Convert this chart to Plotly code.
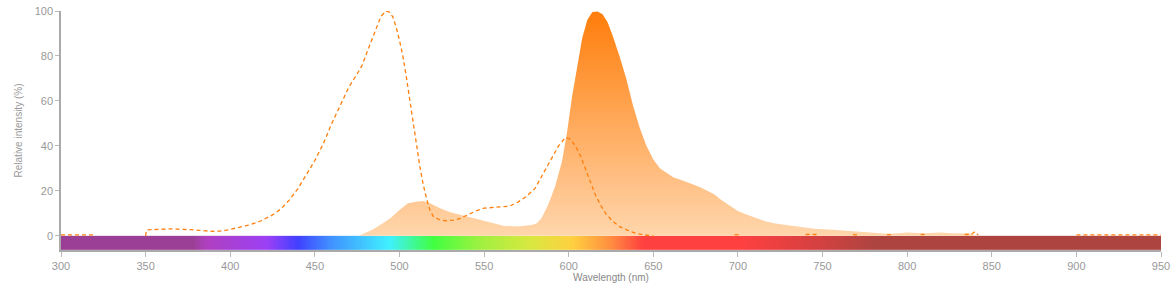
import numpy as np
import plotly.graph_objects as go

# ---------------- data ----------------
# Emission spectrum (filled area)
em_x = [476, 478, 484, 490, 495, 500, 505, 510, 514, 518, 524, 530, 540, 550, 556, 562,
        570, 578, 581, 584, 588, 592, 596, 599, 602, 605, 608, 611, 614, 617, 620, 623,
        626, 630, 634, 638, 642, 646, 650, 654, 658, 662, 666, 670, 674, 678, 682, 686,
        690, 695, 700, 705, 710, 716, 722, 730, 737, 745, 756, 766, 776, 788, 795, 800,
        810, 820, 826, 833, 838, 840]
em_y = [0, 0.7, 2.7, 5.5, 8, 11.5, 14.5, 15.2, 15.5, 14.5, 12.3, 10.5, 8.6, 6.4, 5.5, 4.4,
        4.2, 4.8, 5.5, 7.9, 14, 22, 33, 46, 62, 76, 88, 96, 99.5, 99.8, 98.5, 95,
        89, 80, 70, 58, 48, 40, 34, 30, 28, 26, 25, 24, 22.7, 21.5, 20, 18.5,
        16, 13.5, 11, 9.5, 8, 6.5, 5.5, 4.6, 3.8, 3.2, 2.7, 2.1, 1.6, 0.9, 1.2, 1.5,
        1.2, 1.5, 1.2, 1.2, 1.0, 0]

# Excitation spectrum (dashed line); None marks gaps where no line is visible
ex_x = [300, 320, None,
        350, 350.5, 355, 365, 375, 383, 391, 398, 405, 412, 418, 425, 430, 435, 440, 445,
        450, 455, 460, 465, 470, 475, 478, 482, 486, 489, 492, 494, 496, 498, 500, 502,
        504, 506, 508, 510, 512, 514, 516, 518, 520, 524, 528, 532, 536, 540, 545, 550,
        555, 560, 565, 570, 575, 580, 585, 590, 594, 598, 601, 604, 607, 610, 613, 616,
        619, 622, 626, 630, 635, 640, 645, 650, None,
        698, 702, None, 740, 748, None, 768, 772, None, 788, 792, None, 808, 812, None,
        834, 838, 840, 842, None, 900, 950]
ex_y = [0.4, 0.4, None,
        0, 2.6, 2.8, 3.1, 2.8, 2.4, 1.9, 2.5, 3.6, 5, 6.6, 9.3, 12, 16, 21, 27,
        33.5, 41, 50, 58, 66, 72, 76, 84, 92, 97.5, 100, 99.5, 97.5, 93, 87, 80,
        71, 61, 51, 40, 31, 23, 16.5, 11.5, 8.6, 7, 6.7, 7, 7.8, 9.2, 11, 12.3,
        12.6, 12.7, 13.2, 15, 17.5, 21, 28, 35, 40, 43.7, 43, 40, 35.5, 29.5, 23.5, 17.8,
        13.5, 9.8, 6.5, 4.1, 2.4, 1, 0.4, 0, None,
        0.5, 0.5, None, 0.6, 0.6, None, 0.5, 0.5, None, 0.5, 0.5, None, 0.6, 0.6, None,
        0.6, 0.6, 1.8, 0.3, None, 0.4, 0.4]

# Visible-spectrum colour bar stops (wavelength nm, colour)
spec_nm = [300, 378, 386, 422, 440, 459, 494, 520, 548, 577, 602, 624, 644, 701, 744, 780, 950]
spec_col = ["#9b3f96", "#9b3f96", "#b040c0", "#9b40f5", "#4040ff", "#4090ff", "#40f0ff",
            "#40ff40", "#a0f040", "#d8e840", "#ffd040", "#ff9040", "#ff4040", "#ff4040",
            "#d84040", "#ae4440", "#ae4440"]

x_ticks = [300, 350, 400, 450, 500, 550, 600, 650, 700, 750, 800, 850, 900, 950]
y_ticks = [0, 20, 40, 60, 80, 100]

# ---------------- figure ----------------
FONT = "Liberation Sans, Arial, sans-serif"
lo, hi = spec_nm[0], spec_nm[-1]
cscale = [[(n - lo) / (hi - lo), c] for n, c in zip(spec_nm, spec_col)]
bar_edges = np.arange(lo, hi + 1, 1.0)
bar_centers = (bar_edges[:-1] + bar_edges[1:]) / 2

fig = go.Figure()

fig.add_trace(go.Heatmap(
    x=bar_edges, y=[-6.3, 0], z=[bar_centers], zmin=lo, zmax=hi,
    colorscale=cscale, showscale=False, hoverinfo="skip"))

fig.add_trace(go.Scatter(
    x=em_x, y=em_y, mode="lines", line=dict(width=0, color="rgba(255,127,14,0)"),
    fill="tozeroy",
    fillgradient=dict(type="vertical",
                      colorscale=[[0, "rgb(255,214,172)"], [1, "rgb(255,125,10)"]],
                      start=0, stop=100),
    hoverinfo="skip", showlegend=False))

fig.add_trace(go.Scatter(
    x=ex_x, y=ex_y, mode="lines", connectgaps=False,
    line=dict(color="#ff7f0e", width=1.3, dash="4px,3px"),
    hoverinfo="skip", showlegend=False))

fig.update_layout(
    width=1172, height=295,
    margin=dict(l=61, r=11, t=11, b=45),
    paper_bgcolor="white", plot_bgcolor="white",
    font=dict(family=FONT, color="#999999", size=11),
    showlegend=False,
)
fig.update_xaxes(
    range=[300, 950], tickvals=x_ticks, ticks="outside", ticklen=5, tickcolor="#bbbbbb",
    showline=True, linecolor="#aaaaaa", linewidth=1.5, showgrid=False, zeroline=False,
    tickfont=dict(size=11, color="#999999", family=FONT),
    title=dict(text="Wavelength (nm)", font=dict(size=10, color="#888888", family=FONT), standoff=3),
    automargin=False,
)
fig.update_yaxes(
    range=[-6.3, 100], tickvals=y_ticks, ticks="outside", ticklen=4, tickcolor="#bbbbbb",
    showline=True, linecolor="#aaaaaa", linewidth=1.5, showgrid=False, zeroline=False,
    tickfont=dict(size=11, color="#999999", family=FONT),
    title=dict(text="Relative intensity (%)", font=dict(size=10, color="#999999", family=FONT), standoff=10),
    automargin=False,
)

fig.write_html("out.html")
